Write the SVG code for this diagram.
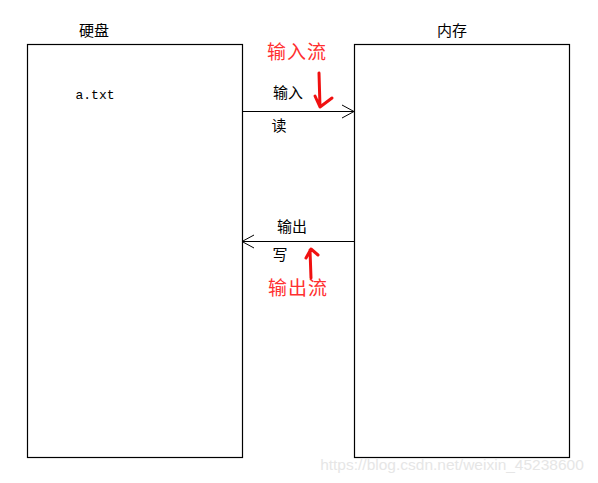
<svg xmlns="http://www.w3.org/2000/svg" width="598" height="483" viewBox="0 0 598 483">
<style>
.box{fill:#fff;stroke:#000;stroke-width:1.2}
.t{font-family:"Noto Sans CJK SC","Liberation Sans",sans-serif;font-size:15px;fill:#000}
.r{font-family:"Noto Sans CJK SC","Liberation Sans",sans-serif;font-size:19px;fill:#ff3030;letter-spacing:1px}
.mono{font-family:"Liberation Mono",monospace;font-size:13px;fill:#000}
.ln{stroke:#000;stroke-width:1.2;fill:none}
.ah{stroke:#000;stroke-width:1;fill:none}
.red{stroke:#f01010;stroke-width:3;fill:none;stroke-linecap:round;stroke-linejoin:round}
</style>
<rect width="598" height="483" fill="#fff"/>
<g id="disk">
<rect class="box" x="27.5" y="44.5" width="215" height="413"/>
<text class="t" x="94" y="36" text-anchor="middle">硬盘</text>
<text class="mono" x="95" y="99" text-anchor="middle">a.txt</text>
</g>
<g id="memory">
<rect class="box" x="354.5" y="44.5" width="215" height="413"/>
<text class="t" x="452" y="36" text-anchor="middle">内存</text>
</g>
<g id="connectors">
<line class="ln" x1="242" y1="111.5" x2="354" y2="111.5"/>
<path class="ah" d="M342,105 L354,111.5 L342,118"/>
<line class="ln" x1="242" y1="241.5" x2="354" y2="241.5"/>
<path class="ah" d="M254,235 L242,241.5 L254,248"/>
</g>
<g id="labels">
<text class="t" x="288" y="98" text-anchor="middle">输入</text>
<text class="t" x="279" y="131" text-anchor="middle">读</text>
<text class="t" x="292" y="232" text-anchor="middle">输出</text>
<text class="t" x="280" y="260" text-anchor="middle">写</text>
<text class="r" x="297" y="59" text-anchor="middle">输入流</text>
<text class="r" x="298" y="295" text-anchor="middle">输出流</text>
<path class="red" d="M319,73 L320,107 M315,96 L320,107 L332,98"/>
<path class="red" d="M311,278 L310,250 M306,258 L311,249 L318,255"/>
</g>
<text x="452" y="470" text-anchor="middle" style="font-family:'Liberation Sans',sans-serif;font-size:15.5px;fill:#e6e6e6">https://blog.csdn.net/weixin_45238600</text>
</svg>
